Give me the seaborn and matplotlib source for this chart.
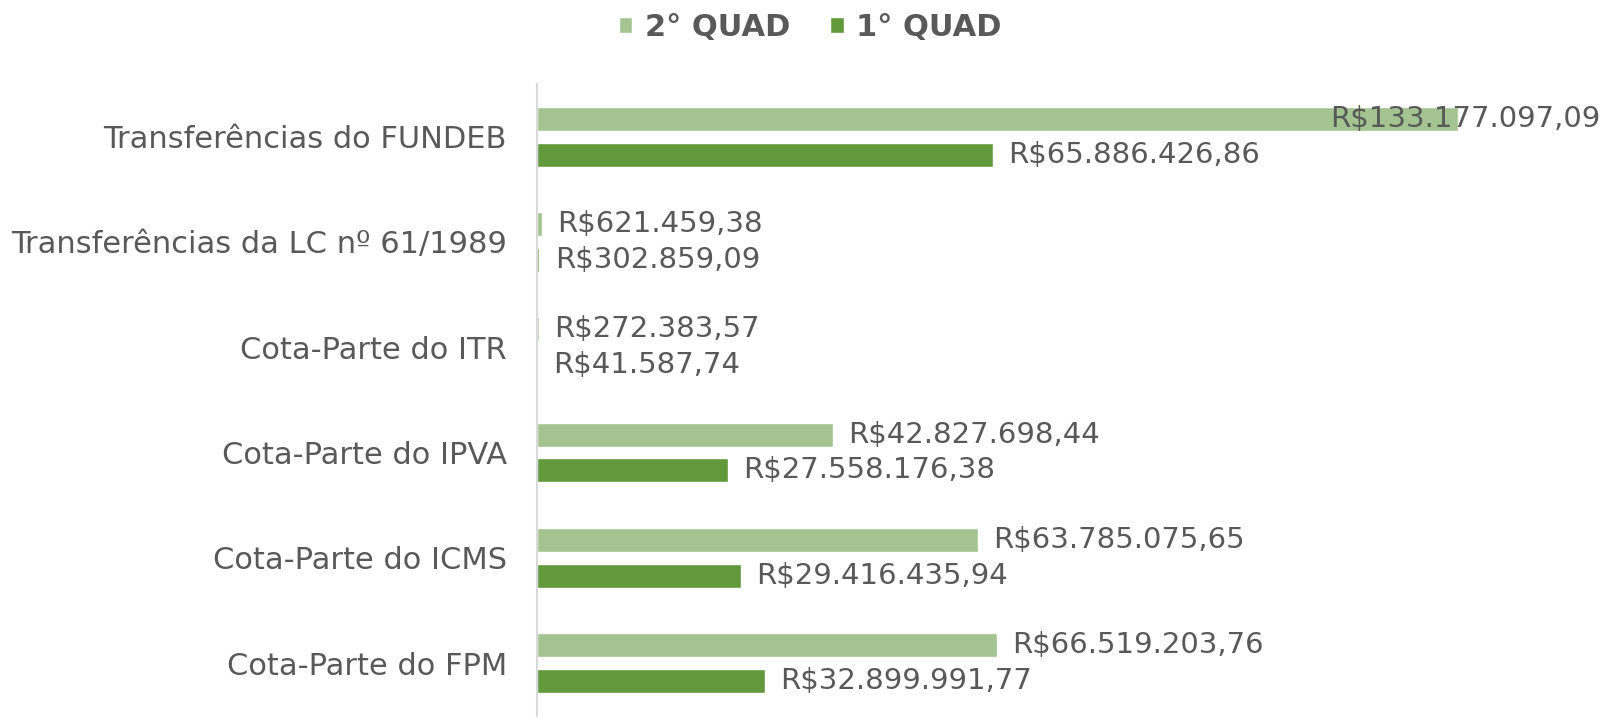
import matplotlib
matplotlib.use("Agg")
import matplotlib.pyplot as plt
import pandas as pd
import seaborn as sns

categorias = [
    "Transferências do FUNDEB",
    "Transferências da LC nº 61/1989",
    "Cota-Parte do ITR",
    "Cota-Parte do IPVA",
    "Cota-Parte do ICMS",
    "Cota-Parte do FPM",
]
quad2 = [133177097.09, 621459.38, 272383.57, 42827698.44, 63785075.65, 66519203.76]
quad1 = [65886426.86, 302859.09, 41587.74, 27558176.38, 29416435.94, 32899991.77]
series = ["2° QUAD", "1° QUAD"]
cores = ["#A3C490", "#61993B"]


def brl(v):
    s = f"{v:,.2f}"
    s = s.replace(",", "X").replace(".", ",").replace("X", ".")
    return "R$" + s


df = pd.DataFrame({
    "categoria": categorias * 2,
    "valor": quad2 + quad1,
    "serie": [series[0]] * len(categorias) + [series[1]] * len(categorias),
})

sns.set_theme(style="white")
plt.rcParams["font.family"] = ["DejaVu Sans"]
texto = "#595959"

fig = plt.figure(figsize=(16.04, 7.18), dpi=100)
ax = fig.add_axes([0.335, 0.003, 0.663, 0.880])

sns.barplot(data=df, y="categoria", x="valor", hue="serie", hue_order=series,
            palette=cores, orient="h", width=0.68, gap=0.33, ax=ax,
            saturation=1, legend=True)

ax.set_xlim(0, 153.9e6)
ax.set_ylim(5.5, -0.5)
ax.set_xlabel("")
ax.set_ylabel("")
ax.set_xticks([])
for s in ["top", "right", "bottom"]:
    ax.spines[s].set_visible(False)
ax.spines["left"].set_color("#D9D9D9")
ax.spines["left"].set_linewidth(1.5)
ax.tick_params(axis="y", length=0, pad=22, labelsize=22, labelcolor=texto)

for cont, vals in zip(ax.containers, [quad2, quad1]):
    labels = ax.bar_label(cont, labels=[brl(v) for v in vals], padding=11,
                          fontsize=21, color=texto)
    for t in labels:
        fig.canvas.draw()
        bb = t.get_window_extent()
        axbb = ax.get_window_extent()
        if bb.x1 > axbb.x1:
            t.set_ha("right")
            t.xy = (ax.get_xlim()[1], t.xy[1])
            t.xyann = (0, t.xyann[1])

leg = ax.legend(loc="upper center", bbox_to_anchor=(0.505, 1.02),
                bbox_transform=fig.transFigure, ncol=2, frameon=False,
                handlelength=0.45, handleheight=0.45, handletextpad=0.4,
                columnspacing=1.3, prop={"weight": "bold", "size": 22})
for t in leg.get_texts():
    t.set_color(texto)

fig.savefig("out.png", dpi=100)
